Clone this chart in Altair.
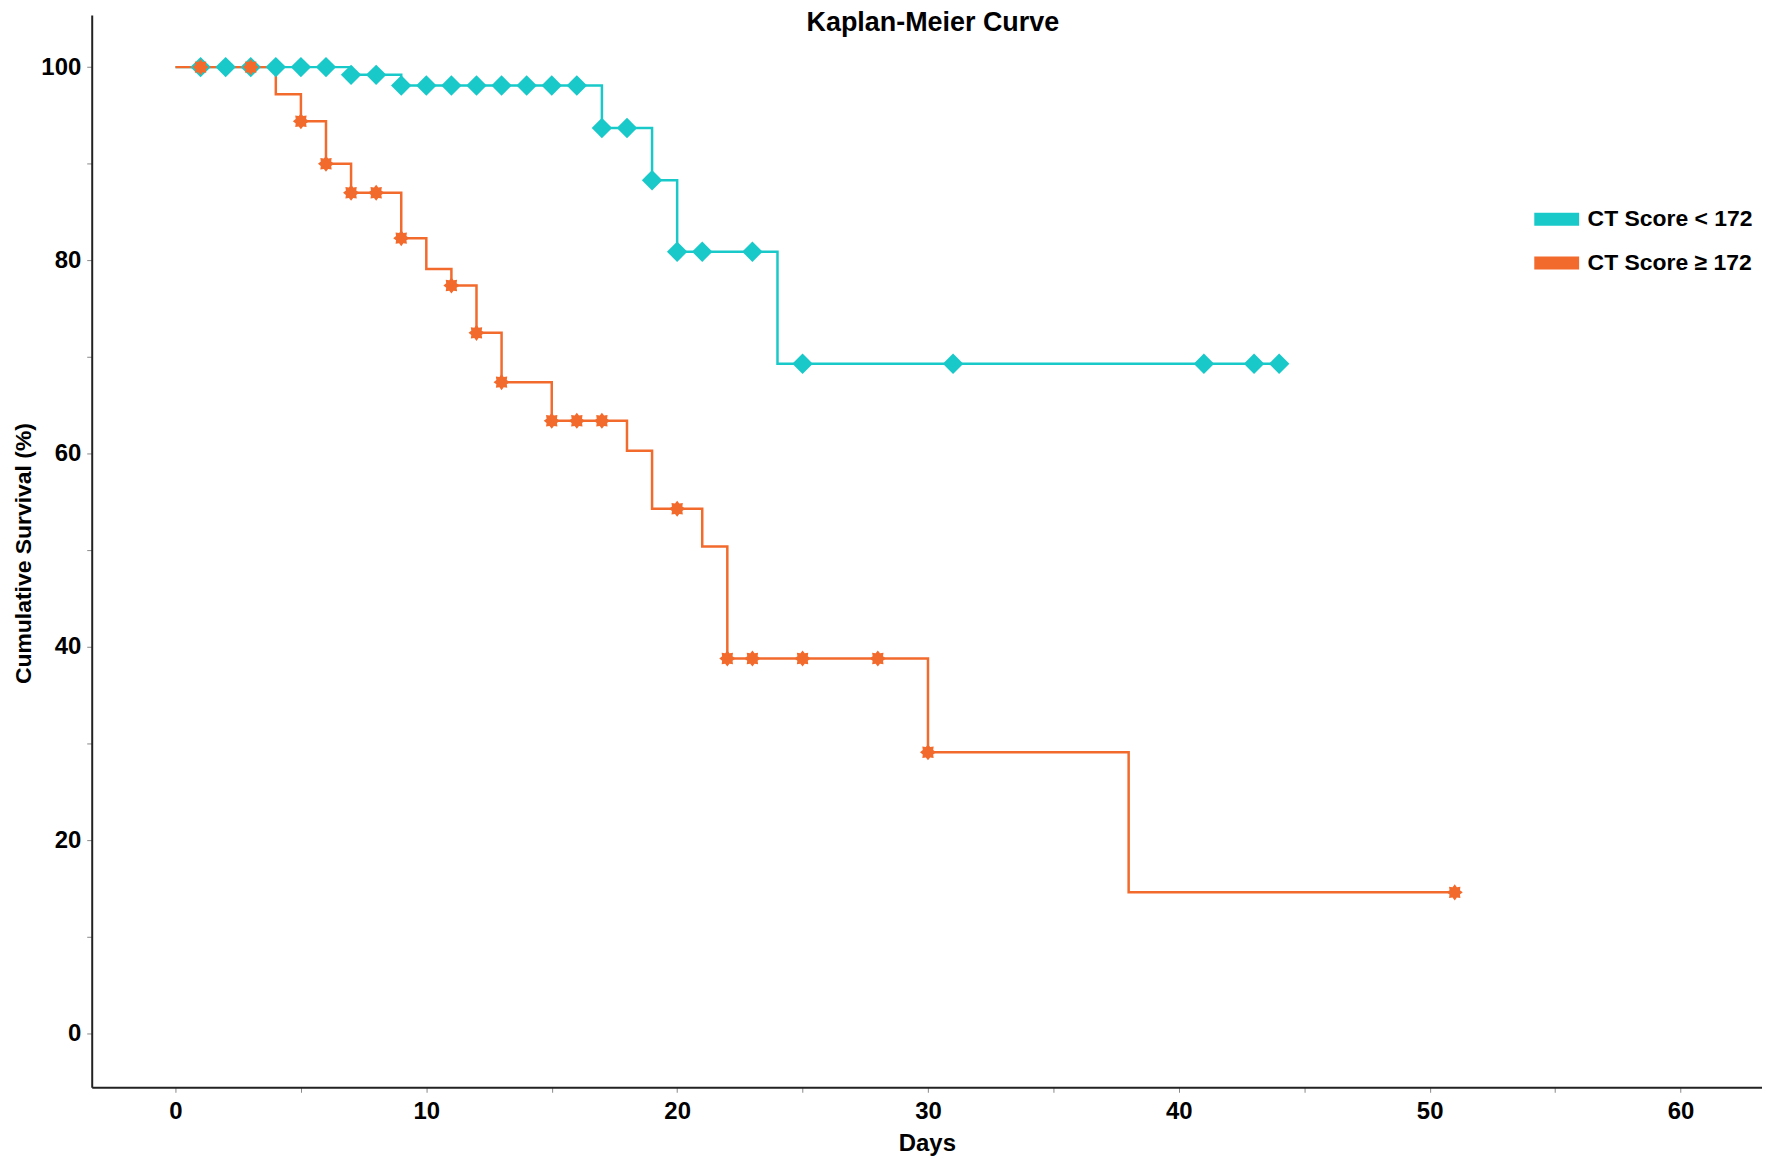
import altair as alt
import pandas as pd

groups = ["CT Score < 172", "CT Score ≥ 172"]
title_text = ["Kaplan-Meier Curve"]

# Kaplan-Meier step curves (day of change, survival % after it)
cyan_step_days = [0, 7, 9, 17, 19, 20, 24, 44]
cyan_step_surv = [100, 99.2, 98.1, 93.7, 88.3, 80.9, 69.3, 69.3]
orange_step_days = [0, 4, 5, 6, 7, 9, 10, 11, 12, 13, 15, 18, 19, 21, 22, 30, 38, 51]
orange_step_surv = [100, 97.2, 94.4, 90.0, 87.0, 82.3, 79.1, 77.4, 72.5, 67.4,
                    63.4, 60.3, 54.3, 50.4, 38.8, 29.1, 14.6, 14.6]

# Markers
cyan_mark_days = [1, 2, 3, 4, 5, 6, 7, 8, 9, 10, 11, 12, 13, 14, 15, 16,
                  17, 18, 19, 20, 21, 23, 25, 31, 41, 43, 44]
cyan_mark_surv = [100, 100, 100, 100, 100, 100, 99.2, 99.2, 98.1, 98.1, 98.1, 98.1,
                  98.1, 98.1, 98.1, 98.1, 93.7, 93.7, 88.3, 80.9, 80.9, 80.9,
                  69.3, 69.3, 69.3, 69.3, 69.3]
orange_mark_days = [1, 3, 5, 6, 7, 8, 9, 11, 12, 13, 15, 16, 17, 20, 22, 23, 25, 28, 30, 51]
orange_mark_surv = [100, 100, 94.4, 90.0, 87.0, 87.0, 82.3, 77.4, 72.5, 67.4,
                    63.4, 63.4, 63.4, 54.3, 38.8, 38.8, 38.8, 38.8, 29.1, 14.6]

x_ticks = [0, 5, 10, 15, 20, 25, 30, 35, 40, 45, 50, 55, 60]
y_ticks = [0, 10, 20, 30, 40, 50, 60, 70, 80, 90, 100]

line_df = pd.DataFrame({
    "Days": cyan_step_days + orange_step_days,
    "Survival": cyan_step_surv + orange_step_surv,
    "Group": [groups[0]] * len(cyan_step_days) + [groups[1]] * len(orange_step_days),
})
mark_groups = [groups[0]] * len(cyan_mark_days) + [groups[1]] * len(orange_mark_days)
mark_df = pd.DataFrame({
    "Days": cyan_mark_days + orange_mark_days,
    "Survival": cyan_mark_surv + orange_mark_surv,
    "Group": mark_groups,
    "Marker": mark_groups,
})
title_df = pd.DataFrame({"Title": title_text})

STAR = ("M1,0L0.647,0.268L0.707,0.707L0.268,0.647L0,1L-0.268,0.647L-0.707,0.707"
        "L-0.647,0.268L-1,0L-0.647,-0.268L-0.707,-0.707L-0.268,-0.647L0,-1"
        "L0.268,-0.647L0.707,-0.707L0.647,-0.268Z")
BAR = "M-2,0L2,0"

FONT = "Liberation Sans"
color_scale = alt.Scale(domain=groups, range=["#19C9C9", "#F26A2C"])

legend = alt.Legend(title=None, orient="none", legendX=1452, legendY=187,
                    symbolType=BAR, symbolSize=506, symbolStrokeWidth=13,
                    symbolOpacity=1, labelFont=FONT, labelFontSize=23,
                    labelFontWeight="bold", labelColor="black", labelLimit=400,
                    labelOffset=13, rowPadding=-17.5, padding=0)

x_enc = alt.X(
    "Days:Q",
    scale=alt.Scale(domain=[-3.34, 63.25], nice=False, zero=False),
    axis=alt.Axis(values=x_ticks, labelExpr="datum.value % 10 === 0 ? datum.label : ''",
                  title="Days", titleX=838, titleY=63, titleBaseline="alphabetic",
                  titleAlign="center", labelPadding=7),
)
y_enc = alt.Y(
    "Survival:Q",
    scale=alt.Scale(domain=[-5.57, 105.4], nice=False, zero=False),
    axis=alt.Axis(values=y_ticks, labelExpr="datum.value % 20 === 0 ? datum.label : ''",
                  title="Cumulative Survival (%)", titleAngle=270, titleBaseline="middle",
                  titleAlign="center", titleX=-68, titleY=540, titleFontSize=23,
                  labelPadding=6),
)

lines = alt.Chart(line_df).mark_line(interpolate="step-after", strokeWidth=2.5).encode(
    x=x_enc,
    y=y_enc,
    color=alt.Color("Group:N", scale=color_scale, legend=legend),
)

points = alt.Chart(mark_df).mark_point(filled=True, opacity=1, strokeWidth=0).encode(
    x=x_enc,
    y=y_enc,
    color=alt.Color("Group:N", scale=color_scale, legend=None),
    shape=alt.Shape("Marker:N", scale=alt.Scale(domain=groups, range=["diamond", STAR]), legend=None),
    size=alt.Size("Marker:N", scale=alt.Scale(domain=groups, range=[420, 260]), legend=None),
)

title = alt.Chart(title_df).mark_text(
    font=FONT, fontSize=27, fontWeight="bold", color="black",
    align="center", baseline="alphabetic",
).encode(
    text="Title:N",
    x=alt.value(844),
    y=alt.value(16),
)

chart = alt.layer(lines, points, title).resolve_legend(
    color="independent"
).properties(
    width=1676,
    height=1076,
    autosize=alt.AutoSizeParams(type="none"),
    padding={"left": 84, "top": 5, "right": 0, "bottom": 67},
).configure_view(stroke=None).configure_axis(
    grid=False,
    domainColor="#222222",
    domainWidth=2,
    tickColor="#888888",
    tickSize=5,
    tickWidth=1,
    labelFont=FONT,
    labelFontSize=24,
    labelFontWeight="bold",
    labelColor="black",
    titleFont=FONT,
    titleFontSize=24,
    titleFontWeight="bold",
    titleColor="black",
)

chart.save("out.html", embed_options={"renderer": "svg", "actions": False})
